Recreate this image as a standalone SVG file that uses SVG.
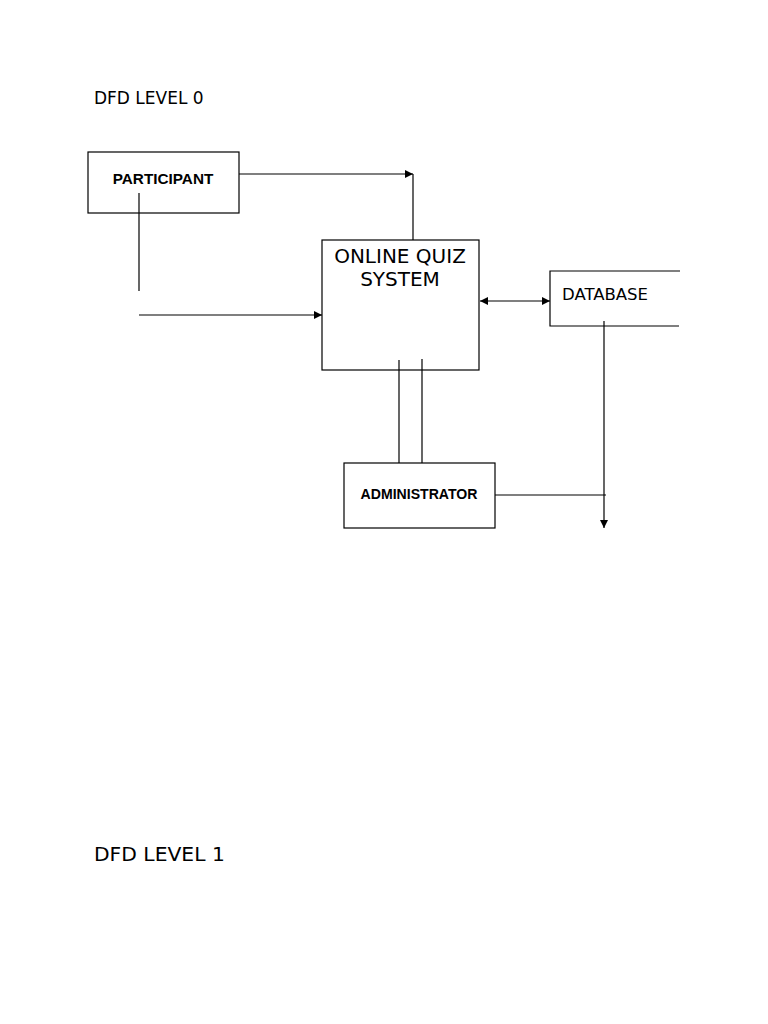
<svg xmlns="http://www.w3.org/2000/svg" width="768" height="1024" viewBox="0 0 768 1024">
<style>
.box{fill:none;stroke:#000;stroke-width:1.2}
.ln{stroke:#000;stroke-width:1.2;fill:none}
.lbl{font-family:"Liberation Sans",Arial,sans-serif;font-weight:bold;fill:#000}
.dj{font-family:"DejaVu Sans",sans-serif;fill:#000}
</style>
<defs>
<marker id="ah" viewBox="0 0 10 10" refX="10" refY="5" markerWidth="8" markerHeight="8" markerUnits="userSpaceOnUse" orient="auto-start-reverse">
<path d="M0,0 L10,5 L0,10 z" fill="#000"/>
</marker>
</defs>
<rect width="768" height="1024" fill="#fff"/>
<text class="dj" x="94" y="104" font-size="17">DFD LEVEL 0</text>
<text class="dj" x="94" y="861" font-size="20.3">DFD LEVEL 1</text>
<g id="participant">
<rect class="box" x="88" y="152" width="151" height="61"/>
<text class="lbl" x="163" y="184" font-size="15.3" text-anchor="middle">PARTICIPANT</text>
</g>
<g id="system">
<rect class="box" x="322" y="240" width="157" height="130"/>
<text class="dj" x="400" y="262.5" font-size="20" text-anchor="middle">ONLINE QUIZ</text>
<text class="dj" x="400" y="286" font-size="20" text-anchor="middle">SYSTEM</text>
</g>
<g id="database">
<path class="ln" d="M680,271 L550,271 L550,326 L679,326"/>
<text class="dj" x="562" y="300" font-size="16.5">DATABASE</text>
</g>
<g id="administrator">
<rect class="box" x="344" y="463" width="151" height="65"/>
<text class="lbl" x="419" y="499" font-size="14.1" text-anchor="middle">ADMINISTRATOR</text>
</g>
<g id="connectors">
<path class="ln" d="M139,193 L139,291"/>
<path class="ln" d="M139,315 L322,315" marker-end="url(#ah)"/>
<path class="ln" d="M239,174 L413,174" marker-end="url(#ah)"/>
<path class="ln" d="M413,174 L413,240"/>
<path class="ln" d="M480,301 L550,301" marker-start="url(#ah)" marker-end="url(#ah)"/>
<path class="ln" d="M604,321 L604,528" marker-end="url(#ah)"/>
<path class="ln" d="M495,495 L606,495"/>
<path class="ln" d="M399,360 L399,463"/>
<path class="ln" d="M422,359 L422,463"/>
</g>
</svg>
